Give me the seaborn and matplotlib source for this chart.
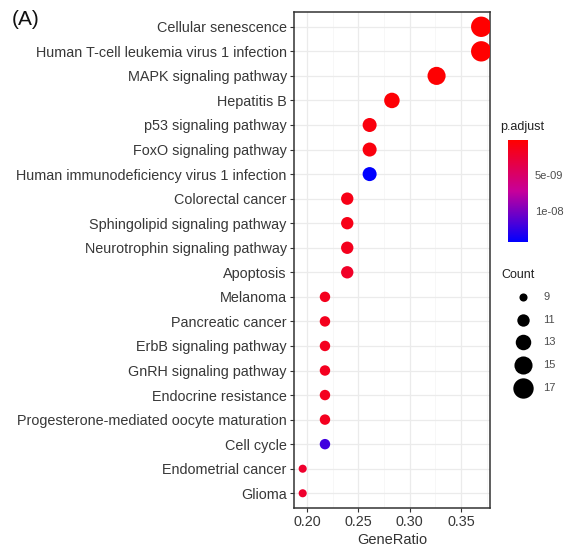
import matplotlib
matplotlib.use("Agg")
import matplotlib.pyplot as plt
import seaborn as sns
import pandas as pd
import numpy as np
from matplotlib.colors import LinearSegmentedColormap, Normalize
from matplotlib.ticker import MultipleLocator

# KEGG enrichment results (top to bottom)
pathways = [
    "Cellular senescence",
    "Human T-cell leukemia virus 1 infection",
    "MAPK signaling pathway",
    "Hepatitis B",
    "p53 signaling pathway",
    "FoxO signaling pathway",
    "Human immunodeficiency virus 1 infection",
    "Colorectal cancer",
    "Sphingolipid signaling pathway",
    "Neurotrophin signaling pathway",
    "Apoptosis",
    "Melanoma",
    "Pancreatic cancer",
    "ErbB signaling pathway",
    "GnRH signaling pathway",
    "Endocrine resistance",
    "Progesterone-mediated oocyte maturation",
    "Cell cycle",
    "Endometrial cancer",
    "Glioma",
]
counts = [17, 17, 15, 13, 12, 12, 12, 11, 11, 11, 11, 10, 10, 10, 10, 10, 10, 10, 9, 9]
gene_ratio = [0.3696, 0.3696, 0.3261, 0.2826, 0.2609, 0.2609, 0.2609, 0.2391, 0.2391,
              0.2391, 0.2391, 0.2174, 0.2174, 0.2174, 0.2174, 0.2174, 0.2174, 0.2174,
              0.1957, 0.1957]
p_adjust = [1.5e-10, 2.0e-10, 3.0e-10, 4.0e-10, 8.0e-10, 8.0e-10, 1.43e-08, 1.2e-09,
            1.2e-09, 1.5e-09, 2.0e-09, 1.5e-09, 1.5e-09, 1.6e-09, 1.6e-09, 1.6e-09,
            1.6e-09, 1.2e-08, 2.2e-09, 2.2e-09]

df = pd.DataFrame({"Description": pathways, "GeneRatio": gene_ratio,
                   "Count": counts, "p.adjust": p_adjust})
df["ypos"] = np.arange(len(df))

sns.set_theme(style="white")
plt.rcParams["font.family"] = ["Liberation Sans", "DejaVu Sans"]

cmap = LinearSegmentedColormap.from_list("rb", ["#FF0000", "#C7009A", "#0000FF"])
pmin, pmax = min(p_adjust), max(p_adjust)
norm = Normalize(vmin=pmin, vmax=pmax)
size_min, size_max = 34, 215

fig = plt.figure(figsize=(5.66, 5.48), dpi=100)
ax = fig.add_axes([0.519, 0.073, 0.347, 0.905])

sns.scatterplot(data=df, x="GeneRatio", y="ypos", hue="p.adjust", hue_norm=norm,
                palette=cmap, size="Count", sizes=(size_min, size_max),
                size_norm=(9, 17), linewidth=0, legend=False, ax=ax, zorder=3)

ax.set_xlim(0.1870, 0.3783)
ax.set_ylim(len(df) - 0.4, -0.6)
ax.set_yticks(df["ypos"])
ax.set_yticklabels(pathways)
ax.xaxis.set_minor_locator(MultipleLocator(0.025))
ax.set_xticks(np.arange(0.20, 0.36, 0.05))
ax.set_xticklabels(["0.20", "0.25", "0.30", "0.35"])
ax.grid(True, which="major", color="#EBEBEB", linewidth=0.9)
ax.grid(True, which="minor", axis="x", color="#F4F4F4", linewidth=0.5)
ax.set_axisbelow(True)
for s in ax.spines.values():
    s.set_color("#333333")
    s.set_linewidth(1.1)
ax.tick_params(axis="both", which="major", length=3, width=0.8, color="#333333",
               labelsize=10.4, labelcolor="#383838", pad=2, left=True, bottom=True)
ax.tick_params(axis="x", which="minor", length=0)
ax.set_xlabel("GeneRatio", fontsize=10.5, color="#333333", labelpad=3)
ax.set_ylabel("")

fig.text(0.021, 0.965, "(A)", fontsize=15, color="#111111", va="center")

# colour bar for p.adjust
cax = fig.add_axes([0.898, 0.558, 0.035, 0.186])
sm = plt.cm.ScalarMappable(norm=norm, cmap=cmap)
cb = fig.colorbar(sm, cax=cax)
cb.outline.set_visible(False)
cax.invert_yaxis()
cb.set_ticks([5e-09, 1e-08])
cb.set_ticklabels(["5e-09", "1e-08"])
cax.tick_params(length=3, color="white", width=0.8, labelsize=8, labelcolor="#4D4D4D",
                pad=5, direction="in")
fig.text(0.884, 0.768, "p.adjust", fontsize=9, color="#222222", va="center")

# size legend for Count
fig.text(0.885, 0.498, "Count", fontsize=9, color="#222222", va="center")
leg_counts = [9, 11, 13, 15, 17]
leg_y = [297, 320, 342, 365, 388]
for c, yp in zip(leg_counts, leg_y):
    s = size_min + (c - 9) / (17 - 9) * (size_max - size_min)
    fig.add_artist(plt.Line2D([523 / 566], [1 - yp / 548], marker="o", linestyle="",
                              markersize=np.sqrt(s), color="black",
                              markeredgewidth=0, transform=fig.transFigure))
    fig.text(543 / 566, 1 - yp / 548, str(c), fontsize=8, color="#4D4D4D",
             va="center")

fig.savefig("out.png", dpi=100)
